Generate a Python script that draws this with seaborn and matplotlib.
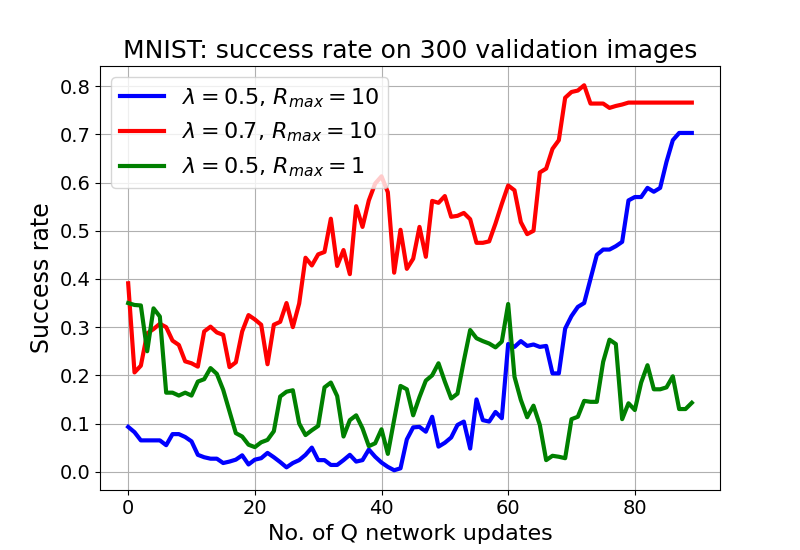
import numpy as np
import pandas as pd
import seaborn as sns
import matplotlib
matplotlib.use('Agg')
import matplotlib.pyplot as plt

# Data (90 updates, 0..89)
updates = list(range(90))

lam05_r10 = [
    0.093, 0.082, 0.065, 0.065, 0.065, 0.065, 0.055, 0.078, 0.078, 0.072,
    0.063, 0.035, 0.030, 0.027, 0.027, 0.018, 0.021, 0.025, 0.034, 0.015,
    0.025, 0.028, 0.039, 0.030, 0.020, 0.009, 0.018, 0.024, 0.035, 0.050,
    0.024, 0.024, 0.014, 0.014, 0.024, 0.035, 0.021, 0.024, 0.046, 0.031,
    0.019, 0.010, 0.003, 0.007, 0.067, 0.092, 0.093, 0.083, 0.114, 0.052,
    0.060, 0.071, 0.097, 0.104, 0.048, 0.150, 0.107, 0.104, 0.124, 0.111,
    0.265, 0.259, 0.271, 0.261, 0.264, 0.259, 0.261, 0.204, 0.204, 0.297,
    0.323, 0.342, 0.350, 0.400, 0.450, 0.461, 0.461, 0.468, 0.477, 0.563,
    0.570, 0.570, 0.589, 0.581, 0.589, 0.643, 0.688, 0.703, 0.703, 0.703,
]

lam07_r10 = [
    0.391, 0.206, 0.220, 0.287, 0.296, 0.307, 0.300, 0.272, 0.263, 0.229,
    0.225, 0.218, 0.291, 0.301, 0.289, 0.284, 0.217, 0.227, 0.291, 0.325,
    0.316, 0.305, 0.223, 0.305, 0.311, 0.350, 0.300, 0.349, 0.444, 0.428,
    0.451, 0.456, 0.525, 0.427, 0.460, 0.410, 0.551, 0.508, 0.563, 0.598,
    0.613, 0.580, 0.413, 0.502, 0.421, 0.442, 0.508, 0.446, 0.562, 0.558,
    0.572, 0.529, 0.531, 0.537, 0.524, 0.475, 0.475, 0.478, 0.515, 0.556,
    0.594, 0.584, 0.518, 0.493, 0.500, 0.621, 0.629, 0.670, 0.688, 0.776,
    0.788, 0.791, 0.802, 0.764, 0.764, 0.764, 0.755, 0.759, 0.762, 0.766,
    0.766, 0.766, 0.766, 0.766, 0.766, 0.766, 0.766, 0.766, 0.766, 0.766,
]

lam05_r1 = [
    0.350, 0.346, 0.345, 0.250, 0.339, 0.322, 0.164, 0.164, 0.158, 0.164,
    0.158, 0.187, 0.192, 0.215, 0.203, 0.170, 0.125, 0.080, 0.073, 0.056,
    0.051, 0.061, 0.066, 0.084, 0.156, 0.166, 0.169, 0.100, 0.076, 0.086,
    0.095, 0.175, 0.185, 0.157, 0.073, 0.107, 0.117, 0.090, 0.053, 0.059,
    0.088, 0.037, 0.108, 0.178, 0.171, 0.117, 0.155, 0.189, 0.200, 0.225,
    0.187, 0.152, 0.162, 0.230, 0.294, 0.277, 0.271, 0.266, 0.258, 0.270,
    0.348, 0.197, 0.149, 0.113, 0.137, 0.097, 0.024, 0.033, 0.031, 0.028,
    0.109, 0.114, 0.147, 0.145, 0.145, 0.228, 0.274, 0.265, 0.109, 0.142,
    0.128, 0.185, 0.221, 0.171, 0.171, 0.175, 0.198, 0.130, 0.130, 0.143,
]

labels = [r'$\lambda=0.5$, $R_{max}=10$',
          r'$\lambda=0.7$, $R_{max}=10$',
          r'$\lambda=0.5$, $R_{max}=1$']
colors = ['blue', 'red', 'green']

df = pd.concat([
    pd.DataFrame({'update': updates, 'rate': lam05_r10, 'run': labels[0]}),
    pd.DataFrame({'update': updates, 'rate': lam07_r10, 'run': labels[1]}),
    pd.DataFrame({'update': updates, 'rate': lam05_r1, 'run': labels[2]}),
])

fig, ax = plt.subplots(figsize=(8, 5.5), dpi=100)
sns.lineplot(data=df, x='update', y='rate', hue='run', hue_order=labels,
             palette=colors, linewidth=3, ax=ax)
ax.grid(True, color='#b0b0b0', linewidth=0.8)
ax.set_title('MNIST: success rate on 300 validation images', fontsize=18)
ax.set_xlabel('No. of Q network updates', fontsize=16)
ax.set_ylabel('Success rate', fontsize=17)
ax.tick_params(labelsize=14)
ax.legend(loc='upper left', fontsize=16)

fig.savefig('out.png', dpi=100)
